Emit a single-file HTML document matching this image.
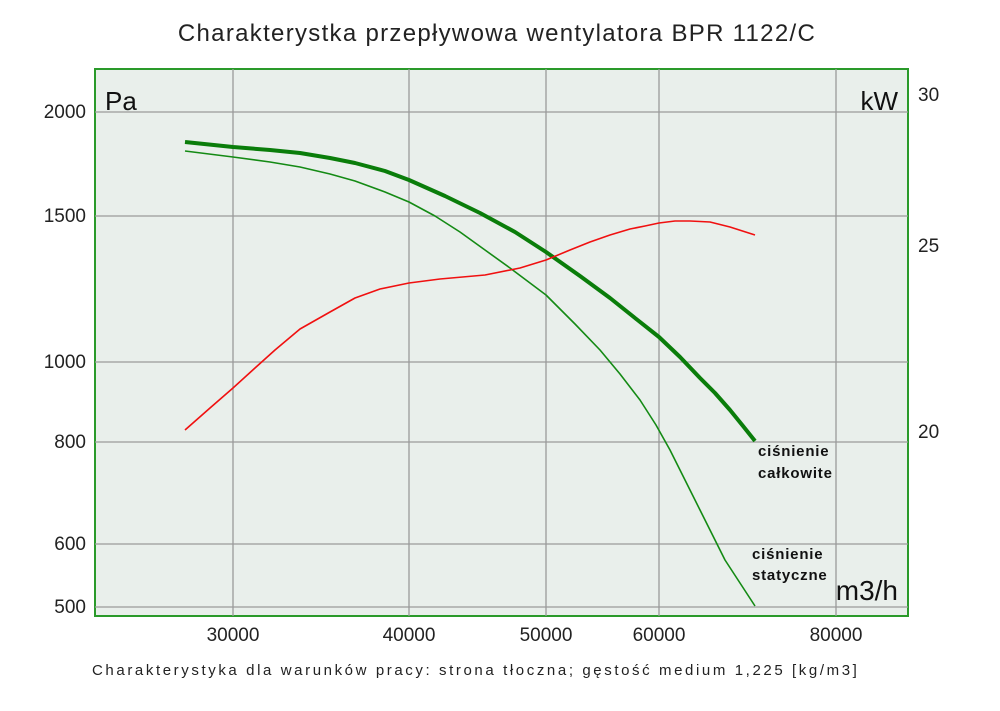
<!DOCTYPE html>
<html><head><meta charset="utf-8"><style>
body{margin:0;background:#fff;}
svg text{font-family:"Liberation Sans","DejaVu Sans",sans-serif;}
</style></head><body>
<svg width="1000" height="706" viewBox="0 0 1000 706" xmlns="http://www.w3.org/2000/svg">
<rect width="1000" height="706" fill="#fff"/>
<text x="497" y="41" font-size="24" text-anchor="middle" fill="#222" letter-spacing="1.3">Charakterystka przepływowa wentylatora BPR 1122/C</text>
<rect x="95" y="69" width="813" height="547" fill="#e9efeb" stroke="#2a9a2a" stroke-width="2"/>
<g stroke="#9a9a9a" stroke-width="1.3">
<line x1="233" y1="69" x2="233" y2="616"/><line x1="409" y1="69" x2="409" y2="616"/>
<line x1="546" y1="69" x2="546" y2="616"/><line x1="659" y1="69" x2="659" y2="616"/>
<line x1="836" y1="69" x2="836" y2="616"/>
<line x1="95" y1="112" x2="908" y2="112"/><line x1="95" y1="216" x2="908" y2="216"/>
<line x1="95" y1="362" x2="908" y2="362"/><line x1="95" y1="442" x2="908" y2="442"/>
<line x1="95" y1="544" x2="908" y2="544"/><line x1="95" y1="607" x2="908" y2="607"/>
</g>
<g fill="none" stroke-linejoin="round">
<path d="M185,142 L233,147 L270,150 L300,153 L330,158 L355,163 L385,171 L409,180 L445,196 L480,213 L515,232 L546,252 L580,276 L610,298 L635,318 L659,337 L680,357 L700,378 L715,393 L730,410 L743,426 L755,441" stroke="#0a7d0a" stroke-width="4"/>
<path d="M185,151 L233,157 L270,162 L300,167 L330,174 L355,181 L385,192 L409,202 L435,216 L460,232 L485,250 L510,268 L530,283 L546,295 L575,324 L600,350 L620,374 L640,400 L656,425 L670,450 L685,480 L700,510 L713,536 L725,560 L740,583 L755,606" stroke="#148a14" stroke-width="1.6"/>
<path d="M185,430 L210,408 L233,388 L255,368 L275,350 L300,329 L330,312 L355,298 L380,289 L409,283 L440,279 L485,275 L520,268 L546,260 L570,250 L590,242 L610,235 L630,229 L645,226 L659,223 L675,221 L690,221 L710,222 L730,227 L755,235" stroke="#f01010" stroke-width="1.6"/>
</g>
<g font-size="19" fill="#222" text-anchor="end">
<text x="86" y="118">2000</text><text x="86" y="222">1500</text><text x="86" y="368">1000</text>
<text x="86" y="448">800</text><text x="86" y="550">600</text><text x="86" y="613">500</text>
</g>
<g font-size="19" fill="#222">
<text x="918" y="101">30</text><text x="918" y="252">25</text><text x="918" y="438">20</text>
</g>
<g font-size="19" fill="#222" text-anchor="middle">
<text x="233" y="641">30000</text><text x="409" y="641">40000</text><text x="546" y="641">50000</text>
<text x="659" y="641">60000</text><text x="836" y="641">80000</text>
</g>
<text x="105" y="110" font-size="26" fill="#111">Pa</text>
<text x="898" y="110" font-size="26" fill="#111" text-anchor="end">kW</text>
<text x="898" y="600" font-size="28" fill="#111" text-anchor="end">m3/h</text>
<g font-size="15" fill="#111" letter-spacing="0.8" font-weight="bold">
<text x="758" y="456">ciśnienie</text><text x="758" y="478">całkowite</text>
<text x="752" y="559">ciśnienie</text><text x="752" y="580">statyczne</text>
</g>
<text x="92" y="675" font-size="15" fill="#222" letter-spacing="2.6">Charakterystyka dla warunków pracy: strona tłoczna; gęstość medium 1,225 [kg/m3]</text>
</svg>
</body></html>
